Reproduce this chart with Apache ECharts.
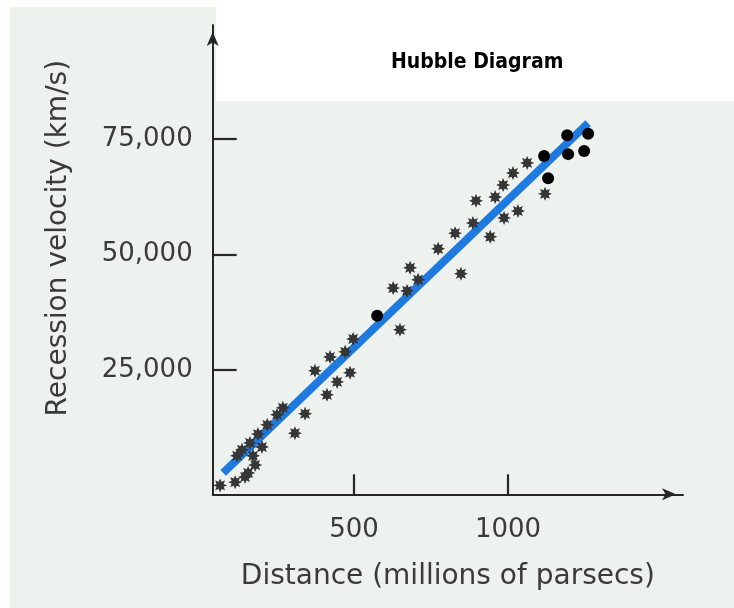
<!DOCTYPE html>
<html><head><meta charset="utf-8">
<script src="https://cdn.jsdelivr.net/npm/echarts@6/dist/echarts.min.js"></script>
<style>html,body{margin:0;padding:0;background:#fff}#c{width:734px;height:608px}</style>
</head><body><div id="c"></div>
<script>
// Galaxies shown as stars (distance in millions of parsecs, velocity in km/s)
const starDistance = [65, 114, 146, 156, 179, 172, 201, 120, 162, 218, 250, 269, 308, 341, 373, 412, 445, 487, 422, 471, 497, 649, 627, 672, 708, 682, 773, 828, 847, 886, 942, 896, 958, 987, 1032, 984, 1016, 1062, 1120, 188, 136];
const starVelocity = [0, 700, 1800, 2700, 4400, 6400, 8300, 6400, 9200, 13100, 15300, 16800, 11300, 15500, 24800, 19600, 22400, 24400, 27800, 28900, 31700, 33700, 42700, 42100, 44500, 47100, 51200, 54600, 45800, 56800, 53800, 61600, 62400, 57900, 59400, 65000, 67600, 69800, 63100, 11100, 7700];
// Galaxies shown as black dots
const dotDistance = [575, 1117, 1130, 1192, 1195, 1247, 1260];
const dotVelocity = [36700, 71300, 66500, 75800, 71700, 72400, 76100];
// Fitted line end points
const fitDistance = [75, 1260];
const fitVelocity = [2700, 78400];
// Tick values
const xTicks = [500, 1000];
const yTicks = [25000, 50000, 75000];

function starPath(n, inner) {
  let d = '';
  for (let i = 0; i < 2 * n; i++) {
    const r = i % 2 === 0 ? 1 : inner;
    const a = Math.PI * i / n - Math.PI / 2;
    d += (i ? 'L' : 'M') + (10 * r * Math.cos(a)).toFixed(3) + ' ' + (10 * r * Math.sin(a)).toFixed(3) + ' ';
  }
  return 'path://' + d + 'Z';
}

const axisColor = '#262626';
const textColor = '#3a3a3a';
const font = 'DejaVu Sans';

const chart = echarts.init(document.getElementById('c'), null, {renderer: 'canvas'});
chart.setOption({
  backgroundColor: '#ffffff',
  animation: false,
  title: {
    text: 'Hubble Diagram',
    left: 386, top: 47,
    textStyle: {fontFamily: 'Liberation Sans Narrow, DejaVu Sans Condensed, sans-serif', fontWeight: 'bold', fontSize: 21, color: '#000'}
  },
  graphic: {elements: [
    {type: 'rect', z: -10, silent: true, shape: {x: 10, y: 7, width: 724, height: 601}, style: {fill: '#eef2ee'}},
    {type: 'rect', z: -9, silent: true, shape: {x: 216, y: 0, width: 518, height: 101}, style: {fill: '#ffffff'}}
  ]},
  grid: {left: 212.7, right: 51, top: 25, bottom: 113.7, containLabel: false},
  xAxis: {
    type: 'value', min: 41, max: 1568,
    splitLine: {show: false},
    axisLine: {show: true, onZero: false, lineStyle: {color: axisColor, width: 2},
      symbol: ['none', 'arrow'], symbolSize: [9, 14], symbolOffset: [0, -7]},
    axisTick: {show: true, inside: true, length: 20, customValues: xTicks, lineStyle: {color: axisColor, width: 2.2}},
    axisLabel: {customValues: xTicks, margin: 23, fontSize: 26, fontFamily: font, color: textColor,
      formatter: v => String(v)},
    name: 'Distance (millions of parsecs)', nameLocation: 'middle', nameGap: 68,
    nameTextStyle: {fontSize: 28, fontFamily: font, color: textColor}
  },
  yAxis: {
    type: 'value', min: -1930, max: 99650,
    splitLine: {show: false},
    axisLine: {show: true, onZero: false, lineStyle: {color: axisColor, width: 2},
      symbol: ['none', 'arrow'], symbolSize: [9, 14], symbolOffset: [0, -7]},
    axisTick: {show: true, inside: true, length: 24, customValues: yTicks, lineStyle: {color: axisColor, width: 2.2}},
    axisLabel: {customValues: yTicks, margin: 20, fontSize: 26, fontFamily: font, color: textColor,
      formatter: v => v.toLocaleString('en-US')},
    name: 'Recession velocity (km/s)', nameLocation: 'middle', nameGap: 140, nameRotate: 90,
    nameTextStyle: {fontSize: 28, fontFamily: font, color: textColor, padding: [0, 0, 0, 43]}
  },
  series: [
    {type: 'line', data: fitDistance.map((d, i) => [d, fitVelocity[i]]), showSymbol: false, symbol: 'none',
      lineStyle: {color: '#1f7ae0', width: 8, cap: 'butt'}, z: 2, silent: true},
    {type: 'scatter', data: starDistance.map((d, i) => [d, starVelocity[i]]), symbol: starPath(8, 0.55), symbolSize: 14,
      itemStyle: {color: '#363636', opacity: 1}, z: 3},
    {type: 'scatter', data: dotDistance.map((d, i) => [d, dotVelocity[i]]), symbol: 'circle', symbolSize: 12,
      itemStyle: {color: '#050505', opacity: 1}, z: 4}
  ]
});
</script></body></html>
